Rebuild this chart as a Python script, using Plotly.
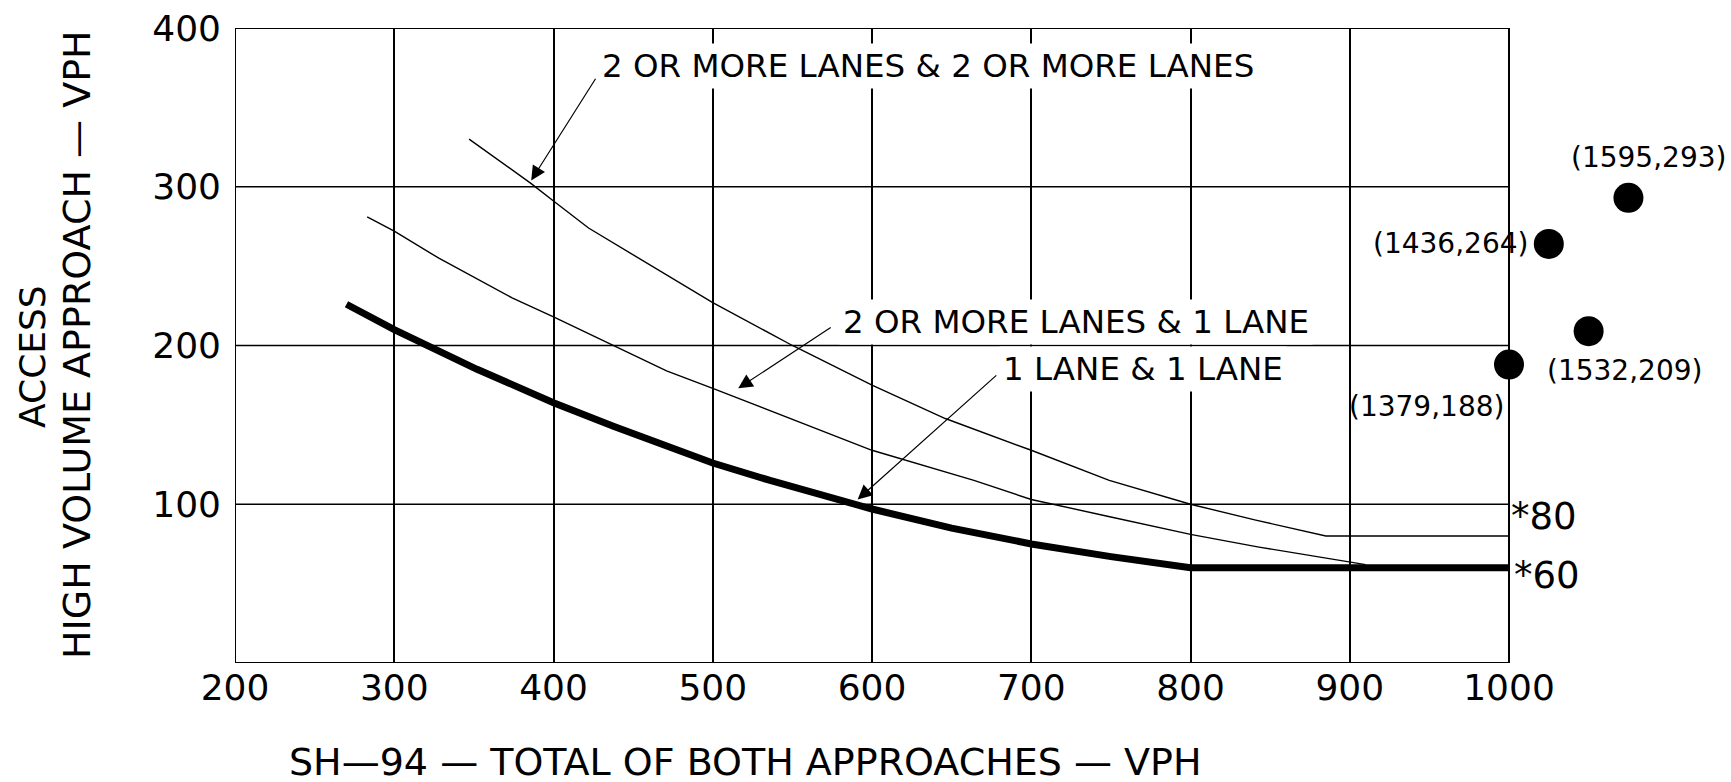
import plotly.graph_objects as go

# curves (x = SH-94 total vph, y = access approach vph)
x_one_lane = [270, 300, 352, 400, 438, 500, 536, 600, 650, 700, 750, 800, 1000]
y_one_lane = [226, 210, 185, 164, 149, 126, 115, 97, 85, 75, 67, 60, 60]

x_two_one = [283, 300, 328, 374, 400, 471, 500, 600, 664, 700, 750, 800, 843, 910]
y_two_one = [281, 272, 255, 230, 218, 184, 173, 134, 115, 103, 92, 81, 73, 62]

x_two_two = [347, 386, 400, 422, 500, 550, 600, 646, 700, 749, 800, 841, 885, 1000]
y_two_two = [330, 302, 291, 274, 227, 200, 175, 154, 134, 115, 100, 90, 80, 80]

# observed counts, drawn off-scale to the right of the chart
obs_x = [1379, 1436, 1532, 1595]
obs_y = [188, 264, 209, 293]
obs_plot_x = [1000, 1025, 1050, 1075]

x_ticks = [200, 300, 400, 500, 600, 700, 800, 900, 1000]
y_ticks = [100, 200, 300, 400]

FONT = "DejaVu Sans"
X0, X1, Y0, Y1 = 200, 1000, 0, 400

W, H = 1731, 782
L, T, R, B = 235, 28, 10, 119
PLOT_W = 1274          # width of the framed 200..1000 box
PAPER_W = W - L - R
PLOT_H = H - T - B
# x axis runs past 1000 (same scale) so the off-chart points fit
x_max = X0 + (X1 - X0) * PAPER_W / PLOT_W


def paper_x(window_x):
    return (window_x - L) / PAPER_W


def paper_y(window_y):
    return (H - B - window_y) / PLOT_H


fig = go.Figure()

# horizontal grid lines and the frame only across the 200..1000 box
for yv in y_ticks:
    fig.add_shape(type="line", x0=X0, x1=X1, y0=yv, y1=yv, layer="below",
                  line=dict(color="black", width=1.6))
fig.add_shape(type="rect", x0=X0, x1=X1, y0=Y0, y1=Y1, layer="above",
              line=dict(color="black", width=2))

fig.add_trace(go.Scatter(x=x_two_two, y=y_two_two, mode="lines",
                         line=dict(color="black", width=1.4)))
fig.add_trace(go.Scatter(x=x_two_one, y=y_two_one, mode="lines",
                         line=dict(color="black", width=1.4)))
fig.add_trace(go.Scatter(x=x_one_lane, y=y_one_lane, mode="lines",
                         line=dict(color="black", width=7)))
fig.add_trace(go.Scatter(x=obs_plot_x, y=obs_y, mode="markers",
                         marker=dict(color="black", size=30), cliponaxis=False))

# curve labels with arrows (tail -> head)
labels = [
    ("2 OR MORE LANES & 2 OR MORE LANES", 428, 376, (427, 369), (386, 304)),
    ("2 OR MORE LANES & 1 LANE", 579, 215, (575, 212), (516, 173)),
    ("1 LANE & 1 LANE", 680, 185, (679, 182), (591, 103)),
]
for text, lx, ly, tail, head in labels:
    fig.add_annotation(x=head[0], y=head[1], ax=tail[0], ay=tail[1],
                       axref="x", ayref="y", text="", showarrow=True,
                       arrowhead=2, arrowsize=2.4, arrowwidth=1.2,
                       arrowcolor="black")
    fig.add_annotation(x=lx, y=ly, text=text, showarrow=False,
                       xanchor="left", yanchor="middle", bgcolor="white",
                       borderpad=3, font=dict(family=FONT, size=32.5, color="black"))

# minimum level labels
fig.add_annotation(x=1000, y=92, text="*80", showarrow=False, xanchor="left",
                   yanchor="middle", font=dict(family=FONT, size=37, color="black"))
fig.add_annotation(x=1000, y=55, text="*60", showarrow=False, xanchor="left",
                   yanchor="middle", xshift=3,
                   font=dict(family=FONT, size=37, color="black"))

# observed point labels
offsets = [
    dict(xanchor="right", yanchor="middle", xshift=-3, yshift=-42),
    dict(xanchor="right", yanchor="middle", xshift=-19, yshift=0),
    dict(xanchor="left", yanchor="middle", xshift=-44, yshift=-39),
    dict(xanchor="center", yanchor="middle", xshift=20, yshift=40),
]
for ox, oy, pxv, off in zip(obs_x, obs_y, obs_plot_x, offsets):
    fig.add_annotation(x=pxv, y=oy, text=f"({ox},{oy})", showarrow=False,
                       font=dict(family=FONT, size=28, color="black"), **off)

# axis titles
fig.add_annotation(x=paper_x(745), y=paper_y(738), xref="paper", yref="paper",
                   text="SH\u201494 \u2014 TOTAL OF BOTH APPROACHES \u2014 VPH",
                   showarrow=False, xanchor="center", yanchor="top",
                   font=dict(family=FONT, size=38, color="black"))
fig.add_annotation(x=paper_x(33), y=paper_y(357), xref="paper", yref="paper",
                   text="ACCESS",
                   textangle=-90, showarrow=False, xanchor="center", yanchor="middle",
                   font=dict(family=FONT, size=36, color="black"))
fig.add_annotation(x=paper_x(77), y=paper_y(345), xref="paper", yref="paper",
                   text="HIGH VOLUME APPROACH \u2014 VPH",
                   textangle=-90, showarrow=False, xanchor="center", yanchor="middle",
                   font=dict(family=FONT, size=38, color="black"))

fig.update_xaxes(range=[X0, x_max], tickvals=x_ticks, showgrid=True,
                 gridcolor="black", gridwidth=1.6, showline=False, zeroline=False,
                 ticks="", ticklabelstandoff=0,
                 tickfont=dict(family=FONT, size=36, color="black"))
fig.update_yaxes(range=[Y0, Y1], tickvals=y_ticks, showgrid=False,
                 showline=False, zeroline=False, ticks="", ticklabelstandoff=13,
                 tickfont=dict(family=FONT, size=36, color="black"))

fig.update_layout(
    width=W, height=H,
    margin=dict(l=L, r=R, t=T, b=B, autoexpand=False),
    plot_bgcolor="white", paper_bgcolor="white",
    showlegend=False,
)

# drop the default 8px page margin so the figure fills the window
fig.write_html("out.html", config={"displayModeBar": False},
               post_script="document.body.style.margin='0';")
